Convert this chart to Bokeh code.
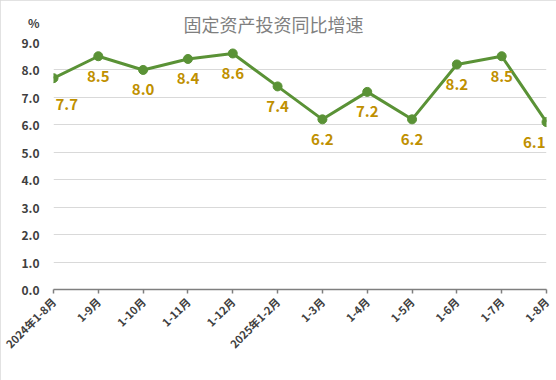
from bokeh.plotting import figure
from bokeh.models import (ColumnDataSource, Range1d, FixedTicker, LabelSet, Label,
                          NumeralTickFormatter)
from bokeh.core.properties import value
from bokeh.embed import file_html
from bokeh.resources import INLINE

categories = ["2024年1-8月", "1-9月", "1-10月", "1-11月", "1-12月", "2025年1-2月",
              "1-3月", "1-4月", "1-5月", "1-6月", "1-7月", "1-8月"]
values = [7.7, 8.5, 8.0, 8.4, 8.6, 7.4, 6.2, 7.2, 6.2, 8.2, 8.5, 6.1]
y_ticks = [0.0, 1.0, 2.0, 3.0, 4.0, 5.0, 6.0, 7.0, 8.0, 9.0]
title_text = "固定资产投资同比增速"
unit_text = "%"

xs = list(range(len(categories)))
labels = [f"{v:.1f}" for v in values]

LINE = "#5A9236"
GOLD = "#BF9000"
FONT = "Noto Sans CJK SC"

p = figure(width=556, height=380, output_backend="svg", toolbar_location=None,
           x_range=Range1d(0, len(categories) - 1), y_range=Range1d(0, 9),
           min_border_left=53, min_border_right=10, min_border_top=42,
           min_border_bottom=91, title=title_text)
p.outline_line_color = None
p.styles = {"outline": "1px solid #D9D9D9", "outline-offset": "-1px"}

p.title.align = "left"
p.title.offset = 130
p.title.standoff = 12
p.title.text_font = FONT
p.title.text_font_size = "18px"
p.title.text_font_style = "normal"
p.title.text_color = "#7F7F7F"

src = ColumnDataSource(dict(x=xs, y=values, lab=labels))
p.line("x", "y", source=src, line_color=LINE, line_width=3)
p.scatter("x", "y", source=src, size=9, fill_color=LINE, line_color=LINE)

# grid
p.xgrid.grid_line_color = None
p.ygrid.grid_line_color = "#D9D9D9"
p.ygrid.grid_line_width = 1

# y axis (unit sign stacked above the top tick label)
p.yaxis.ticker = FixedTicker(ticks=y_ticks)
p.yaxis.formatter = NumeralTickFormatter(format="0.0")
p.yaxis.major_label_overrides = {y_ticks[-1]: f"{unit_text}\n{y_ticks[-1]:.1f}\n "}
p.yaxis.axis_line_color = None
p.yaxis.major_tick_line_color = None
p.yaxis.minor_tick_line_color = None
p.yaxis.major_label_text_font = FONT
p.yaxis.major_label_text_font_size = "12px"
p.yaxis.major_label_text_font_style = "bold"
p.yaxis.major_label_text_color = "#404040"
p.yaxis.major_label_standoff = 8

# x axis
p.xaxis.ticker = FixedTicker(ticks=xs)
p.xaxis.major_label_overrides = {i: c for i, c in enumerate(categories)}
p.xaxis.major_label_orientation = 0.785398
p.xaxis.axis_line_color = "#7F7F7F"
p.xaxis.axis_line_width = 1.5
p.xaxis.major_tick_line_color = "#7F7F7F"
p.xaxis.major_tick_line_width = 1.5
p.xaxis.major_tick_out = 4
p.xaxis.major_tick_in = 0
p.xaxis.minor_tick_line_color = None
p.xaxis.major_label_text_font = FONT
p.xaxis.major_label_text_font_size = "11px"
p.xaxis.major_label_text_font_style = "bold"
p.xaxis.major_label_text_color = "#404040"
p.xaxis.major_label_standoff = 6

# value labels (middle points)
mid = ColumnDataSource(dict(x=xs[1:-1], y=values[1:-1], lab=labels[1:-1]))
p.add_layout(LabelSet(x="x", y="y", text="lab", source=mid, y_offset=-20,
                      text_align="center", text_baseline="middle",
                      text_font=value(FONT), text_font_size=value("15px"),
                      text_font_style=value("bold"), text_color=value(GOLD)))
# edge labels kept inside the plot area
p.add_layout(Label(x=xs[0], y=values[0], text=labels[0], y_offset=-26, x_offset=2,
                   text_align="left", text_baseline="middle",
                   text_font=FONT, text_font_size="15px", text_font_style="bold",
                   text_color=GOLD))
p.add_layout(Label(x=xs[-1], y=values[-1], text=labels[-1], y_offset=-20, x_offset=-1,
                   text_align="right", text_baseline="middle",
                   text_font=FONT, text_font_size="15px", text_font_style="bold",
                   text_color=GOLD))

open("out.html", "w").write(file_html(p, INLINE))
